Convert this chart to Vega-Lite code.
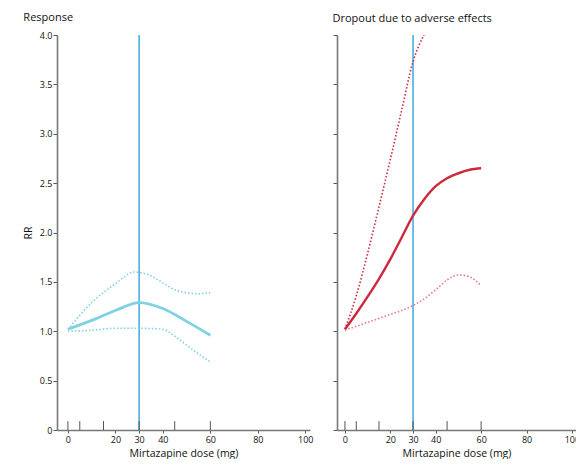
{
  "$schema": "https://vega.github.io/schema/vega-lite/v6.json",
  "padding": {"left": 23, "top": 12, "right": 0, "bottom": 0},
  "background": "white",
  "config": {
    "view": {"stroke": null},
    "font": "Open Sans",
    "title": {"anchor": "start", "fontSize": 11, "fontWeight": "normal", "color": "#111", "offset": 8, "font": "Open Sans"},
    "axis": {"grid": false, "domainColor": "#777", "domainWidth": 1.6, "tickColor": "#555", "labelColor": "#111", "labelFontSize": 9, "labelFont": "Open Sans", "titleFont": "Open Sans", "titleFontWeight": "normal", "titleFontSize": 10.5, "titleColor": "#111", "labelOverlap": false}
  },
  "spacing": 27,
  "bounds": "flush",
  "datasets": {
    "response": [
      {"series": "est", "dose": 0, "rr": 1.02},
      {"series": "est", "dose": 10, "rr": 1.11},
      {"series": "est", "dose": 20, "rr": 1.21},
      {"series": "est", "dose": 30, "rr": 1.29},
      {"series": "est", "dose": 40, "rr": 1.23},
      {"series": "est", "dose": 50, "rr": 1.10},
      {"series": "est", "dose": 60, "rr": 0.96},
      {"series": "upper", "dose": 0, "rr": 1.02},
      {"series": "upper", "dose": 10, "rr": 1.29},
      {"series": "upper", "dose": 20, "rr": 1.48},
      {"series": "upper", "dose": 28, "rr": 1.60},
      {"series": "upper", "dose": 35, "rr": 1.56},
      {"series": "upper", "dose": 40, "rr": 1.49},
      {"series": "upper", "dose": 45, "rr": 1.42},
      {"series": "upper", "dose": 50, "rr": 1.39},
      {"series": "upper", "dose": 55, "rr": 1.38},
      {"series": "upper", "dose": 60, "rr": 1.39},
      {"series": "lower", "dose": 0, "rr": 1.00},
      {"series": "lower", "dose": 10, "rr": 1.01},
      {"series": "lower", "dose": 20, "rr": 1.03},
      {"series": "lower", "dose": 30, "rr": 1.03},
      {"series": "lower", "dose": 40, "rr": 1.02},
      {"series": "lower", "dose": 45, "rr": 0.95},
      {"series": "lower", "dose": 50, "rr": 0.86},
      {"series": "lower", "dose": 55, "rr": 0.77},
      {"series": "lower", "dose": 60, "rr": 0.69}
    ],
    "dropout": [
      {"series": "est", "dose": 0, "rr": 1.02},
      {"series": "est", "dose": 5, "rr": 1.18},
      {"series": "est", "dose": 10, "rr": 1.35},
      {"series": "est", "dose": 15, "rr": 1.53},
      {"series": "est", "dose": 20, "rr": 1.73},
      {"series": "est", "dose": 25, "rr": 1.95},
      {"series": "est", "dose": 30, "rr": 2.17},
      {"series": "est", "dose": 35, "rr": 2.34},
      {"series": "est", "dose": 40, "rr": 2.47},
      {"series": "est", "dose": 45, "rr": 2.55},
      {"series": "est", "dose": 50, "rr": 2.60},
      {"series": "est", "dose": 55, "rr": 2.635},
      {"series": "est", "dose": 60, "rr": 2.65},
      {"series": "upper", "dose": 0, "rr": 1.02},
      {"series": "upper", "dose": 5, "rr": 1.36},
      {"series": "upper", "dose": 10, "rr": 1.79},
      {"series": "upper", "dose": 15, "rr": 2.26},
      {"series": "upper", "dose": 20, "rr": 2.74},
      {"series": "upper", "dose": 25, "rr": 3.24},
      {"series": "upper", "dose": 30, "rr": 3.73},
      {"series": "upper", "dose": 34.8, "rr": 4.0},
      {"series": "lower", "dose": 0, "rr": 1.01},
      {"series": "lower", "dose": 5, "rr": 1.05},
      {"series": "lower", "dose": 10, "rr": 1.09},
      {"series": "lower", "dose": 15, "rr": 1.13},
      {"series": "lower", "dose": 20, "rr": 1.17},
      {"series": "lower", "dose": 25, "rr": 1.21},
      {"series": "lower", "dose": 30, "rr": 1.26},
      {"series": "lower", "dose": 35, "rr": 1.33},
      {"series": "lower", "dose": 40, "rr": 1.42},
      {"series": "lower", "dose": 45, "rr": 1.52},
      {"series": "lower", "dose": 50, "rr": 1.57},
      {"series": "lower", "dose": 55, "rr": 1.55},
      {"series": "lower", "dose": 60, "rr": 1.46}
    ],
    "rug": [
      {"dose": 0}, {"dose": 5}, {"dose": 15}, {"dose": 30}, {"dose": 45}, {"dose": 60}
    ],
    "ref": [{"dose": 30}]
  },
  "hconcat": [
    {
      "title": "Response",
      "width": 253,
      "height": 395,
      "layer": [
        {
          "data": {"name": "ref"},
          "mark": {"type": "rule", "color": "#3fa9dc", "strokeWidth": 1.5},
          "encoding": {
            "x": {"field": "dose", "type": "quantitative", "scale": {"domain": [-4.6, 102], "nice": false, "zero": false},
              "axis": {"values": [0, 20, 30, 40, 60, 80, 100], "tickCount": 20, "tickSize": 3, "title": "Mirtazapine dose (mg)", "labelPadding": 2, "titlePadding": 4, "labelFlush": false}},
            "y": {"datum": 0, "type": "quantitative", "scale": {"domain": [0, 4], "nice": false},
              "axis": {"values": [0, 0.5, 1, 1.5, 2, 2.5, 3, 3.5, 4], "tickCount": 20, "tickSize": 4, "title": "RR", "labelExpr": "datum.value == 0 ? '0' : format(datum.value, '.1f')", "titlePadding": 6, "labelPadding": 1}},
            "y2": {"datum": 4}
          }
        },
        {
          "data": {"name": "rug"},
          "mark": {"type": "rule", "color": "#555", "strokeWidth": 1},
          "encoding": {
            "x": {"field": "dose", "type": "quantitative"},
            "y": {"datum": 0},
            "y2": {"datum": 0.09}
          }
        },
        {
          "data": {"name": "response"},
          "transform": [{"filter": "datum.series != 'est'"}],
          "mark": {"type": "line", "color": "#7fd2e2", "strokeWidth": 1.6, "strokeDash": [1.5, 2], "interpolate": "monotone"},
          "encoding": {
            "x": {"field": "dose", "type": "quantitative"},
            "y": {"field": "rr", "type": "quantitative"},
            "detail": {"field": "series"}
          }
        },
        {
          "data": {"name": "response"},
          "transform": [{"filter": "datum.series == 'est'"}],
          "mark": {"type": "line", "color": "#7fd2e2", "strokeWidth": 2.8, "interpolate": "monotone"},
          "encoding": {
            "x": {"field": "dose", "type": "quantitative"},
            "y": {"field": "rr", "type": "quantitative"}
          }
        }
      ]
    },
    {
      "title": "Dropout due to adverse effects",
      "width": 239,
      "height": 395,
      "layer": [
        {
          "data": {"name": "ref"},
          "mark": {"type": "rule", "color": "#3fa9dc", "strokeWidth": 1.5},
          "encoding": {
            "x": {"field": "dose", "type": "quantitative", "scale": {"domain": [-3.5, 101.8], "nice": false, "zero": false},
              "axis": {"values": [0, 20, 30, 40, 60, 80, 100], "tickCount": 20, "tickSize": 3, "title": "Mirtazapine dose (mg)", "labelPadding": 2, "titlePadding": 4, "labelFlush": false}},
            "y": {"datum": 0, "type": "quantitative", "scale": {"domain": [0, 4], "nice": false},
              "axis": {"values": [0, 0.5, 1, 1.5, 2, 2.5, 3, 3.5, 4], "tickCount": 20, "tickSize": 4, "title": null, "labels": false}},
            "y2": {"datum": 4}
          }
        },
        {
          "data": {"name": "rug"},
          "mark": {"type": "rule", "color": "#555", "strokeWidth": 1},
          "encoding": {
            "x": {"field": "dose", "type": "quantitative"},
            "y": {"datum": 0},
            "y2": {"datum": 0.09}
          }
        },
        {
          "data": {"name": "dropout"},
          "transform": [{"filter": "datum.series == 'upper'"}],
          "mark": {"type": "line", "color": "#cc2a3c", "strokeWidth": 1.6, "strokeDash": [1.5, 2], "interpolate": "monotone"},
          "encoding": {
            "x": {"field": "dose", "type": "quantitative"},
            "y": {"field": "rr", "type": "quantitative"}
          }
        },
        {
          "data": {"name": "dropout"},
          "transform": [{"filter": "datum.series == 'lower'"}],
          "mark": {"type": "line", "color": "#e07a86", "strokeWidth": 1.6, "strokeDash": [1.5, 2], "interpolate": "monotone"},
          "encoding": {
            "x": {"field": "dose", "type": "quantitative"},
            "y": {"field": "rr", "type": "quantitative"}
          }
        },
        {
          "data": {"name": "dropout"},
          "transform": [{"filter": "datum.series == 'est'"}],
          "mark": {"type": "line", "color": "#cc2a3c", "strokeWidth": 2.4, "interpolate": "monotone"},
          "encoding": {
            "x": {"field": "dose", "type": "quantitative"},
            "y": {"field": "rr", "type": "quantitative"}
          }
        }
      ]
    }
  ]
}
